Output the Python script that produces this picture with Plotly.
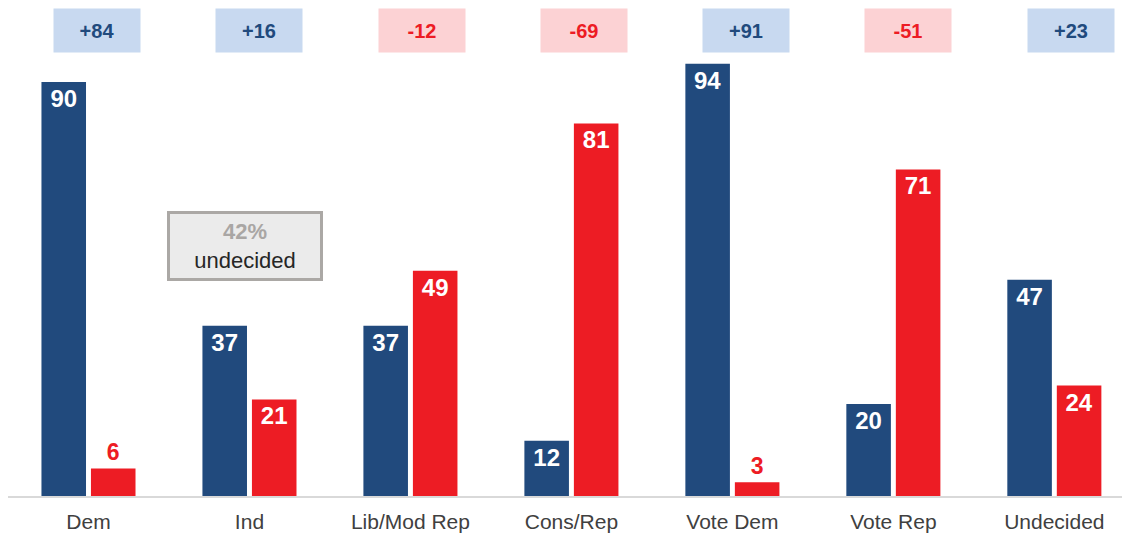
import plotly.graph_objects as go

categories = ["Dem", "Ind", "Lib/Mod Rep", "Cons/Rep", "Vote Dem", "Vote Rep", "Undecided"]
dem_values = [90, 37, 37, 12, 94, 20, 47]
rep_values = [6, 21, 49, 81, 3, 71, 24]
margins = ["+84", "+16", "-12", "-69", "+91", "-51", "+23"]

BLUE = "#214A7D"
RED = "#ED1C24"
FONT = "Liberation Sans, Arial, sans-serif"

def positions(vals):
    return ["outside" if v < 8 else "inside" for v in vals]

fig = go.Figure()
for vals, color, name in [(dem_values, BLUE, "Dem"), (rep_values, RED, "Rep")]:
    fig.add_trace(go.Bar(
        x=categories, y=vals, name=name,
        marker=dict(color=color, line=dict(width=0)),
        text=[str(v) for v in vals], textposition=positions(vals),
        insidetextanchor="end", constraintext="none",
        insidetextfont=dict(color="white", size=24, family=FONT, weight="bold"),
        outsidetextfont=dict(color=color, size=23, family=FONT, weight="bold"),
        cliponaxis=False,
    ))

# invisible helper axis: the margin boxes sit on a slightly wider grid
fig.add_trace(go.Scatter(x=categories, y=[None] * len(categories), xaxis="x2",
                         showlegend=False, hoverinfo="skip"))

for cat, m in zip(categories, margins):
    pos = m.startswith("+")
    fig.add_annotation(
        x=cat, y=101.3, xref="x2", yref="y", text=f"<b>{m}</b>",
        showarrow=False, width=86, height=43, borderpad=0,
        bgcolor="#C8D9F0" if pos else "#FCD2D4",
        font=dict(size=20, family=FONT, color=BLUE if pos else RED),
    )

fig.add_annotation(
    x=0.97, y=54.3, xref="x", yref="y",
    text="<b><span style='color:#A9A6A4'>42%</span></b><br>undecided",
    showarrow=False, width=150, height=64, borderpad=0,
    bgcolor="#EBEBEB", bordercolor="#ABA8A5", borderwidth=3,
    font=dict(size=22, family=FONT, color="#262626"),
)

fig.update_layout(
    width=1122, height=528,
    margin=dict(l=0, r=0, t=0, b=40),
    plot_bgcolor="white", paper_bgcolor="white",
    barmode="group", bargap=0.385, bargroupgap=0.1,
    showlegend=False,
    font=dict(family=FONT),
    xaxis=dict(showline=True, linecolor="#D9D9D9", linewidth=1.5, ticks="",
               tickfont=dict(size=21, color="#404040", family=FONT),
               ticklabelstandoff=6,
               showgrid=False, range=[-0.5, 6.47]),
    xaxis2=dict(overlaying="x", visible=False, range=[-0.548, 6.365],
                categoryorder="array", categoryarray=categories),
    yaxis=dict(visible=False, range=[0, 106.1], showgrid=False, zeroline=False),
)

fig.write_html("out.html")
